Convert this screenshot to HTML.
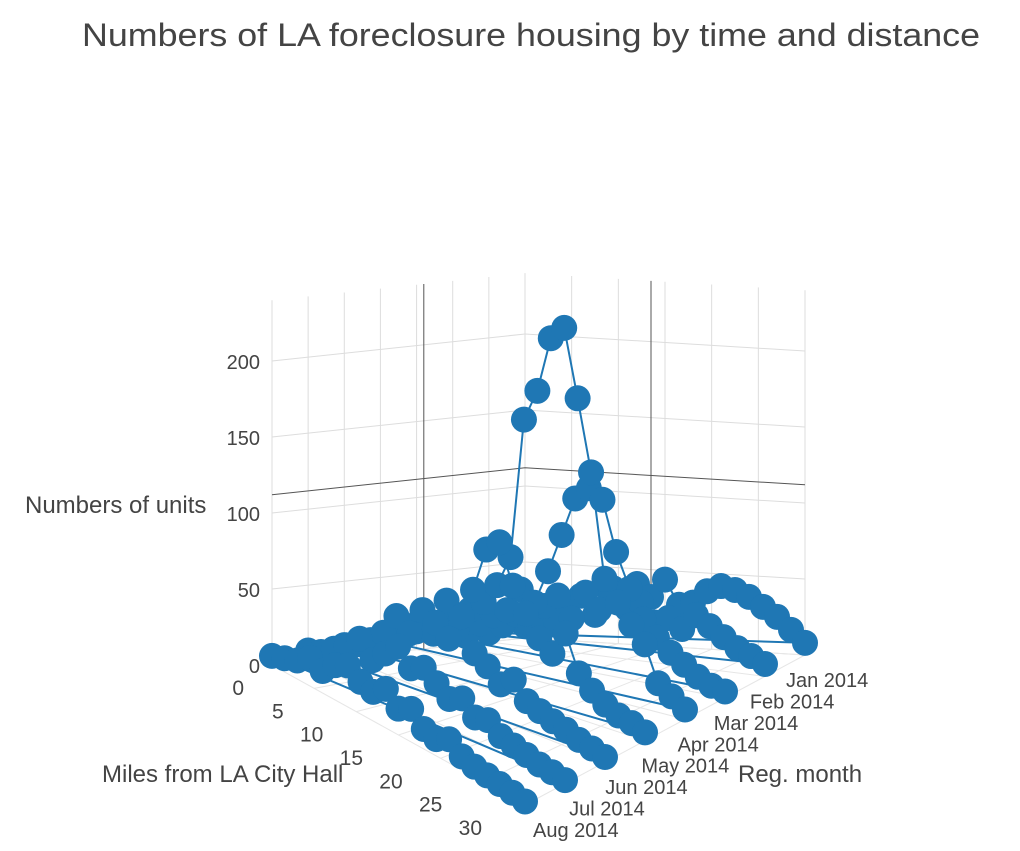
<!DOCTYPE html>
<html><head><meta charset="utf-8"><style>
html,body{margin:0;padding:0;background:#fff;}
svg text{font-family:"Liberation Sans",sans-serif;fill:#444;}
</style></head><body>
<svg id="chart" width="1020" height="846">
<text x="82" y="46" font-size="32" textLength="898" lengthAdjust="spacingAndGlyphs">Numbers of LA foreclosure housing by time and distance</text>
<g id="grid"></g><g id="marks"></g><g id="labels"></g>
<text x="25" y="513" font-size="24">Numbers of units</text>
<text x="102" y="782" font-size="24">Miles from LA City Hall</text>
<text x="738" y="782" font-size="24">Reg. month</text>
</svg>
<script>
const months = ["Jan 2014","Feb 2014","Mar 2014","Apr 2014","May 2014","Jun 2014","Jul 2014","Aug 2014"];
const miles = [0,1.5,3,4.5,6,7.5,9,10.5,12,13.5,15,16.5,18,19.5,21,22.5,24,25.5,27,28.5,30];
const janUnits = [8,14,10,22,30,18,35,26,40,32,44,28,30,38,42,40,36,30,24,16,8];
const febUnits = [6,12,20,15,28,36,22,40,30,45,33,38,26,30,24,34,28,22,16,12,8];
const marUnits = [10,8,18,25,30,45,38,60,85,110,118,112,80,58,40,30,22,16,10,6,4];
const aprUnits = [12,16,22,20,35,42,55,75,165,185,220,228,185,140,75,62,50,40,18,12,6];
const mayUnits = [9,14,20,30,24,48,40,60,88,95,70,55,42,35,50,28,20,14,10,8,5];
const junUnits = [8,12,18,26,40,32,50,45,38,55,35,30,22,28,18,15,12,10,7,5,3];
const julUnits = [7,10,16,22,30,20,28,36,26,30,24,18,22,14,16,10,8,6,4,3,2];
const augUnits = [6,9,12,18,14,22,26,20,18,24,16,20,12,10,14,8,6,5,4,3,2];
const unitsByMonth = [janUnits,febUnits,marUnits,aprUnits,mayUnits,junUnits,julUnits,augUnits];
const zTicks = [0,50,100,150,200];
const xTicks = [0,5,10,15,20,25,30];

const NS="http://www.w3.org/2000/svg";
const FAR=[525,638], RIGHT=[805,655], LEFT=[272,665], NEAR=[525,805];
function P(m,t,z){
  const u=m/30, w=t/7;
  const a=(1-u)*(1-w), b=u*(1-w), c=(1-u)*w, d=u*w;
  const x=a*FAR[0]+b*RIGHT[0]+c*LEFT[0]+d*NEAR[0];
  const y=a*FAR[1]+b*RIGHT[1]+c*LEFT[1]+d*NEAR[1];
  const s=1.52+0.25*d;
  return [x, y-z*s];
}
function mk(tag,attrs,parent){const e=document.createElementNS(NS,tag);for(const a in attrs)e.setAttribute(a,attrs[a]);parent.appendChild(e);return e;}
const grid=document.getElementById('grid'),marks=document.getElementById('marks'),labels=document.getElementById('labels');
const zMax=240;
for(const z of zTicks){
  const a=P(0,7,z),b=P(0,0,z),c=P(30,0,z);
  const l=mk('polyline',{points:`${a} ${b} ${c}`,fill:'none',stroke:'#ddd','stroke-width':1},grid);
  
  
  const t=mk('text',{x:a[0]-12,y:a[1]+8,'text-anchor':'end','font-size':20},labels);
  t.textContent=z;
  
  
}
for(let t=0;t<8;t++){
  const a=P(0,t,0),b=P(0,t,zMax);
  const l=mk('line',{x1:a[0],y1:a[1],x2:b[0],y2:b[1],stroke:'#ddd'},grid);
  
  
  const f1=P(0,t,0),f2=P(30,t,0);
  const g=mk('line',{x1:f1[0],y1:f1[1],x2:f2[0],y2:f2[1],stroke:'#e6e6e6'},grid);
  
  
  const p=P(30,t,0);
  const tx=mk('text',{x:p[0]+8-(7-t)/7*27,y:p[1]+32,'font-size':20},labels);
  tx.textContent=months[t];
  
  
}
for(const m of xTicks){
  const a=P(m,0,0),b=P(m,0,zMax);
  const l=mk('line',{x1:a[0],y1:a[1],x2:b[0],y2:b[1],stroke:'#ddd'},grid);
  
  
  const f1=P(m,0,0),f2=P(m,7,0);
  const g=mk('line',{x1:f1[0],y1:f1[1],x2:f2[0],y2:f2[1],stroke:'#e6e6e6'},grid);
  
  
  const p=P(m,7,0);
  const tx=mk('text',{x:p[0]-28-m*0.5,y:p[1]+30,'text-anchor':'end','font-size':21},labels);
  tx.textContent=m;
  
  
}
const d1=P(0,7,112),d2=P(0,0,112),d3=P(30,0,112);
const ax=mk('polyline',{points:`${d1} ${d2} ${d3}`,fill:'none',stroke:'#555'},grid);


const vl=mk('line',{x1:P(0,2.8,0)[0],y1:P(0,2.8,0)[1],x2:P(0,2.8,zMax)[0],y2:P(0,2.8,zMax)[1],stroke:'#555'},grid);


const vr=mk('line',{x1:P(13.5,0,0)[0],y1:P(13.5,0,0)[1],x2:P(13.5,0,zMax)[0],y2:P(13.5,0,zMax)[1],stroke:'#555'},grid);


const pts=[];
unitsByMonth.forEach((arr,t)=>arr.forEach((v,i)=>pts.push(P(miles[i],t,v))));
const line=mk('polyline',{points:pts.map(p=>p.join(',')).join(' '),fill:'none',stroke:'#1f77b4','stroke-width':2},marks);


for(const p of pts){
  const c=mk('circle',{cx:p[0],cy:p[1],r:13,fill:'#1f77b4'},marks);
  
  
}
</script>
</body></html>
